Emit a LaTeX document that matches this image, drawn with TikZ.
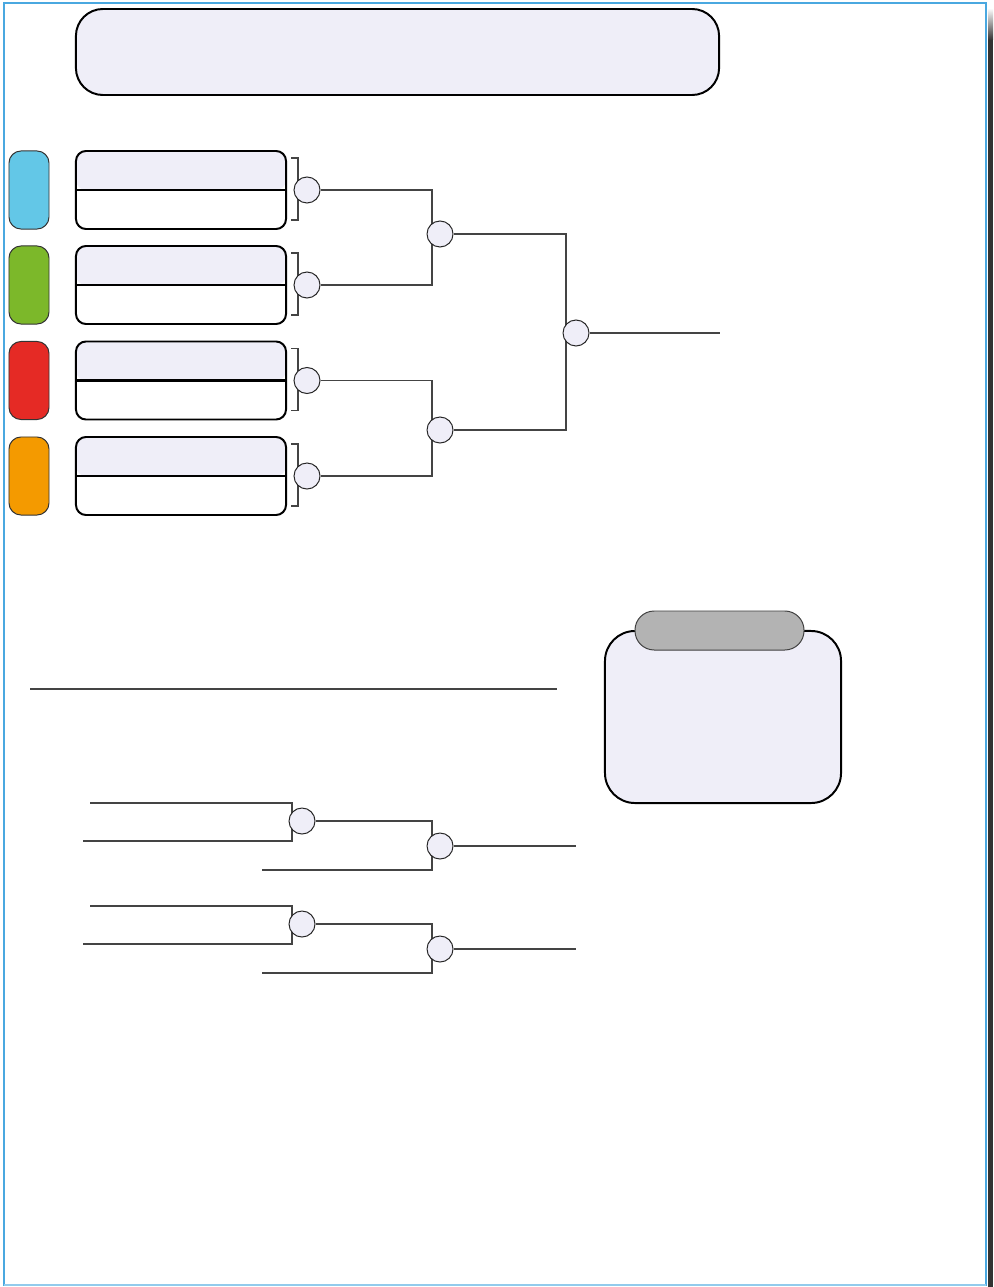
\documentclass[tikz,border=0pt]{standalone}
\usepackage{tikz}
\usetikzlibrary{positioning,calc,backgrounds}
\definecolor{lav}{RGB}{239,238,248}
\definecolor{pblue}{RGB}{99,199,231}
\definecolor{pgreen}{RGB}{124,184,42}
\definecolor{pred}{RGB}{229,42,37}
\definecolor{porange}{RGB}{244,154,0}
\definecolor{tabgray}{RGB}{179,179,179}
\definecolor{wiregray}{RGB}{68,68,68}
\definecolor{framebl}{RGB}{74,168,224}
\tikzset{
	pill/.style={draw=black!80, line width=0.7pt, rounded corners=0.3cm, inner sep=0, minimum width=1cm, minimum height=1.95cm},
	entry/.style={draw, line width=1.4pt, rounded corners=0.25cm, inner sep=0, minimum width=5.25cm, minimum height=1.95cm, fill=white,
		path picture={\fill[lav] (path picture bounding box.north west) rectangle (path picture bounding box.east);
			\draw[line width=1.6pt] (path picture bounding box.west) -- (path picture bounding box.east);}},
	knot/.style={circle, draw=black!85, line width=0.7pt, fill=lav, inner sep=0, minimum size=0.65cm},
	wire/.style={draw=wiregray, line width=0.85pt},
	panel/.style={draw, line width=1.4pt, fill=lav, inner sep=0}
}
\begin{document}
\begin{tikzpicture}[x=0.025cm, y=-0.025cm]
	\useasboundingbox (0,0) rectangle (993,1287);
	\begin{scope}[on background layer]
		\fill[white] (0,0) rectangle (993,1287);
	\end{scope}
	\shade[top color=white, bottom color=black!80] (988,8) rectangle (993,40);
	\fill[black!80] (988,40) rectangle (993,1287);
	\draw[framebl, line width=1pt] (4,3) rectangle (986,1285);
	\draw[framebl!60, line width=1.2pt] (4,1285) -- (986,1285);
	\node[panel, rounded corners=0.675cm, minimum width=16.075cm, minimum height=2.15cm] (title) at (397.5,52) {};
	\foreach \i/\yy/\col in {1/190/pblue,2/285/pgreen,3/380.5/pred,4/476/porange} {
		\node[pill, fill=\col] (p\i) at (29,\yy) {};
		\node[entry] (e\i) at (181,\yy) {};
		\draw[wire] ([shift={(4,8)}]e\i.north east) -- ++(7,0) -- ++(0,62) -- ++(-7,0);
		\node[knot] (k\i) at (307,\yy) {};
	}
	\node[knot] (m1) at (440,234) {};
	\node[knot] (m2) at (440,430) {};
	\node[knot] (root) at (576,333) {};
	\coordinate (v1) at (432,234);
	\coordinate (v2) at (432,430);
	\coordinate (v3) at (566,333);
	\coordinate (out) at (720,333);
	\begin{scope}[on background layer]
		\draw[wire] (k1.east) -| (v1) |- (k2.east);
		\draw[wire] (k3.east) -| (v2) |- (k4.east);
		\draw[wire] (m1.east) -| (v3) |- (m2.east);
		\draw[wire] (root.east) -- (out);
	\end{scope}
	% lower part
	\coordinate (r1) at (30,689);
	\coordinate (r2) at (557,689);
	\draw[wire] (r1) -- (r2);
	\foreach \j/\yy in {1/803,2/906} {
		\coordinate (a\j) at (90,\yy);
		\coordinate (b\j) at (83,\yy+38);
		\coordinate (u\j) at (292,\yy+18);
		\node[knot] (s\j) at (302,\yy+18) {};
		\coordinate (w\j) at (432,\yy+43);
		\coordinate (c\j) at (262,\yy+67);
		\node[knot] (t\j) at (440,\yy+43) {};
		\coordinate (d\j) at (576,\yy+43);
		\begin{scope}[on background layer]
			\draw[wire] (a\j) -| (u\j) |- (b\j);
			\draw[wire] (s\j.east) -| (w\j) |- (c\j);
			\draw[wire] (t\j.east) -- (d\j);
		\end{scope}
	}
	\node[panel, rounded corners=0.75cm, minimum width=5.9cm, minimum height=4.3cm] (note) at (723,717) {};
	\node[draw=black!75, line width=0.7pt, fill=tabgray, rounded corners=0.48cm, inner sep=0, minimum width=4.225cm, minimum height=0.975cm] (tab) at (719.5,630.5) {};
\end{tikzpicture}
\end{document}
